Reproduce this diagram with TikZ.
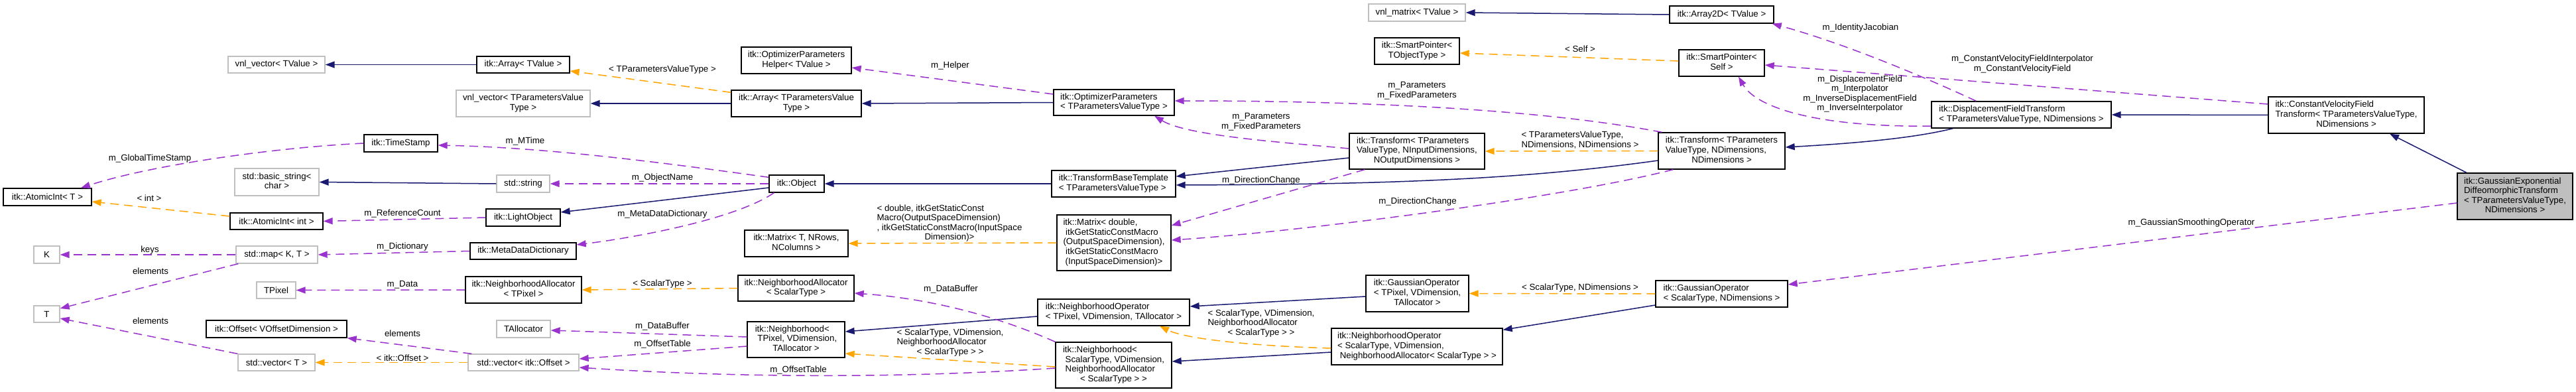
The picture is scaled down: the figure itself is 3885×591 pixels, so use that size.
\documentclass[tikz,border=0pt]{standalone}
\usepackage{fontspec}
\setmainfont{Liberation Sans}
\usetikzlibrary{arrows.meta}
\definecolor{inh}{HTML}{191970}
\definecolor{mem}{HTML}{9A32CD}
\definecolor{tpl}{HTML}{FFA500}
\definecolor{undoc}{HTML}{BFBFBF}
\newcommand{\dxl}[1]{\begin{tabular}{@{}l@{}}#1\end{tabular}}
\newcommand{\dxc}[1]{\begin{tabular}{@{}c@{}}#1\end{tabular}}
\newcommand{\dxm}[1]{\multicolumn{1}{@{}c@{}}{#1}}
\tikzset{
 every node/.style={font=\fontsize{13.3}{14.6}\selectfont},
 cls/.style={draw=black, line width=1.3pt, rectangle, inner sep=0pt, fill=white},
 ucls/.style={cls, draw=undoc},
 focus/.style={cls, fill=undoc},
 lbl/.style={inner sep=0pt},
 tip/.style={-{Triangle[length=14pt,width=10pt]}},
 inherit/.style={draw=inh, line width=1.5pt, tip},
 member/.style={draw=mem, line width=1.5pt, dash pattern=on 13pt off 8pt, tip},
 templ/.style={draw=tpl, line width=1.5pt, dash pattern=on 13pt off 8pt, tip},
}
\begin{document}
\begin{tikzpicture}[x=1pt,y=-1pt]
\fill[white] (0,0) rectangle (3885,591);
\useasboundingbox (0,0) rectangle (3885,591);

% ---------------- nodes ----------------
\node[ucls, minimum width=146pt, minimum height=25pt] (vnlvecTV) at (417,97.5) {vnl\_vector< TValue >};
\node[cls, minimum width=111pt, minimum height=26pt] (timestamp) at (604.5,216) {itk::TimeStamp};
\node[ucls, minimum width=127pt, minimum height=41pt] (basicstr) at (417.5,274.5) {\dxc{std::basic\_string<\\char >}};
\node[cls, minimum width=133pt, minimum height=26pt] (atomicT) at (71.5,297) {itk::AtomicInt< T >};
\node[cls, minimum width=140pt, minimum height=25pt] (atomicint) at (417,333.5) {itk::AtomicInt< int >};
\node[ucls, minimum width=39pt, minimum height=26pt] (K) at (70.5,384) {K};
\node[ucls, minimum width=123pt, minimum height=26pt] (map) at (417.5,384) {std::map< K, T >};
\node[ucls, minimum width=39pt, minimum height=25pt] (T) at (70.5,473.5) {T};
\node[ucls, minimum width=59pt, minimum height=25pt] (TPixel) at (416.5,437.5) {TPixel};
\node[cls, minimum width=212pt, minimum height=26pt] (offsetV) at (417,496) {itk::Offset< VOffsetDimension >};
\node[ucls, minimum width=116pt, minimum height=25pt] (vecT) at (417,546.5) {std::vector< T >};
\node[cls, minimum width=140pt, minimum height=25pt] (arrayTV) at (789,97.5) {itk::Array< TValue >};
\node[cls, minimum width=166pt, minimum height=40pt] (helper) at (1201,91) {\dxc{itk::OptimizerParameters\\Helper< TValue >}};
\node[ucls, minimum width=202pt, minimum height=40pt] (vnlvecTPVT) at (789,156) {\dxc{vnl\_vector< TParametersValue\\Type >}};
\node[cls, minimum width=196pt, minimum height=40pt] (arrayTPVT) at (1201,156) {\dxc{itk::Array< TParametersValue\\Type >}};
\node[ucls, minimum width=80pt, minimum height=26pt] (stdstring) at (789,277) {std::string};
\node[cls, minimum width=83pt, minimum height=26pt] (object) at (1201.5,277) {itk::Object};
\node[cls, minimum width=112pt, minimum height=26pt] (lightobj) at (789,328) {itk::LightObject};
\node[cls, minimum width=160pt, minimum height=25pt] (mdd) at (789,378.5) {itk::MetaDataDictionary};
\node[cls, minimum width=156pt, minimum height=40pt] (matrixT) at (1201,367) {\dxc{itk::Matrix< T, NRows,\\NColumns >}};
\node[cls, minimum width=175pt, minimum height=40pt] (naTPixel) at (789.5,437) {\dxc{itk::NeighborhoodAllocator\\< TPixel >}};
\node[cls, minimum width=175pt, minimum height=39pt] (naST) at (1200.5,434.5) {\dxc{itk::NeighborhoodAllocator\\< ScalarType >}};
\node[ucls, minimum width=81pt, minimum height=26pt] (tallocator) at (789.5,496) {TAllocator};
\node[cls, minimum width=147pt, minimum height=54pt] (nbTPixel) at (1200.5,512) {\dxl{itk::Neighborhood<\\\ TPixel, VDimension,\\\dxm{TAllocator >}}};
\node[ucls, minimum width=167pt, minimum height=25pt] (vecOffset) at (789.5,546.5) {std::vector< itk::Offset >};
\node[cls, minimum width=182pt, minimum height=39pt] (optparams) at (1680,154.5) {\dxl{itk::OptimizerParameters\\< TParametersValueType >}};
\node[cls, minimum width=187pt, minimum height=40pt] (tbt) at (1679.5,277) {\dxl{itk::TransformBaseTemplate\\< TParametersValueType >}};
\node[cls, minimum width=172pt, minimum height=84pt] (matrixD) at (1680,366) {\dxl{itk::Matrix< double,\\\ itkGetStaticConstMacro\\(OutputSpaceDimension),\\\ itkGetStaticConstMacro\\\dxm{(InputSpaceDimension)>}}};
\node[cls, minimum width=229pt, minimum height=40pt] (noTPixel) at (1679.5,471) {\dxl{itk::NeighborhoodOperator\\< TPixel, VDimension, TAllocator >}};
\node[cls, minimum width=175pt, minimum height=69pt] (nbST) at (1679.5,550.5) {\dxl{itk::Neighborhood<\\\ ScalarType, VDimension,\\\ NeighborhoodAllocator\\\dxm{< ScalarType > >}}};
\node[ucls, minimum width=146pt, minimum height=26pt] (vnlmatrix) at (2137,19) {vnl\_matrix< TValue >};
\node[cls, minimum width=128pt, minimum height=40pt] (spTOT) at (2137,77) {\dxc{itk::SmartPointer<\\TObjectType >}};
\node[cls, minimum width=204pt, minimum height=54pt] (transformNIn) at (2137,228) {\dxl{itk::Transform< TParameters\\ValueType, NInputDimensions,\\\dxm{NOutputDimensions >}}};
\node[cls, minimum width=155pt, minimum height=55pt] (goTPixel) at (2137.5,442.5) {\dxl{itk::GaussianOperator\\< TPixel, VDimension,\\\dxm{TAllocator >}}};
\node[cls, minimum width=258pt, minimum height=55pt] (noST) at (2137,522.5) {\dxl{itk::NeighborhoodOperator\\< ScalarType, VDimension,\\\ NeighborhoodAllocator< ScalarType > >}};
\node[cls, minimum width=157pt, minimum height=26pt] (array2D) at (2596.5,22) {itk::Array2D< TValue >};
\node[cls, minimum width=129pt, minimum height=40pt] (spSelf) at (2596.5,95) {\dxc{itk::SmartPointer<\\Self >}};
\node[cls, minimum width=191pt, minimum height=55pt] (transformND) at (2596.5,227.5) {\dxl{itk::Transform< TParameters\\ValueType, NDimensions,\\\dxm{NDimensions >}}};
\node[cls, minimum width=199pt, minimum height=40pt] (goST) at (2596.5,443) {\dxl{itk::GaussianOperator\\< ScalarType, NDimensions >}};
\node[cls, minimum width=271pt, minimum height=40pt] (dft) at (3048.5,173) {\dxl{itk::DisplacementFieldTransform\\< TParametersValueType, NDimensions >}};
\node[cls, minimum width=235pt, minimum height=55pt] (cvft) at (3538.5,173.5) {\dxl{itk::ConstantVelocityField\\Transform< TParametersValueType,\\\dxm{NDimensions >}}};
\node[focus, minimum width=174pt, minimum height=70pt] (gedt) at (3793,296) {\dxl{itk::GaussianExponential\\DiffeomorphicTransform\\< TParametersValueType,\\\dxm{NDimensions >}}};

% ---------------- inheritance ----------------
\draw[inherit] (arrayTV.west) -- (vnlvecTV.east);
\draw[inherit] (arrayTPVT.west) -- (vnlvecTPVT.east);
\draw[inherit] (optparams.west) -- (arrayTPVT.east);
\draw[inherit] (stdstring.west) -- (basicstr.east);
\draw[inherit] ([yshift=-6pt]object.west) -- ([yshift=8pt]lightobj.east);
\draw[inherit] (tbt.west) -- (object.east);
\draw[inherit] ([yshift=-10pt]transformNIn.west) -- ([yshift=11pt]tbt.east);
\draw[inherit] ([yshift=-14.5pt]transformND.west) .. controls (2300,270) and (2100,278) .. ([yshift=-2pt]tbt.east);
\draw[inherit] (array2D.west) -- (vnlmatrix.east);
\draw[inherit] ([xshift=-103pt]dft.south) .. controls (2880,210) and (2780,217) .. ([yshift=5.5pt]transformND.east);
\draw[inherit] (cvft.west) -- (dft.east);
\draw[inherit] ([xshift=-73pt]gedt.north) -- ([xshift=65.5pt]cvft.south);
\draw[inherit] ([yshift=-6pt]noTPixel.west) -- ([yshift=12pt]nbTPixel.east);
\draw[inherit] ([yshift=-4.5pt]goTPixel.west) -- ([yshift=9pt]noTPixel.east);
\draw[inherit] ([yshift=-17pt]goST.west) -- ([yshift=-3pt]noST.north east);
\draw[inherit] ([yshift=-8.5pt]noST.west) -- ([yshift=5.5pt]nbST.east);

% ---------------- template instances ----------------
\draw[templ] ([yshift=7.5pt]atomicint.west) -- ([yshift=-7pt]atomicT.east);
\draw[templ] (vecOffset.west) -- (vecT.east);
\draw[templ] (naST.west) -- (naTPixel.east);
\draw[templ] ([yshift=-4pt]arrayTPVT.north west) -- ([yshift=-9.5pt]arrayTV.east);
\draw[templ] (matrixD.west) -- (matrixT.east);
\draw[templ] ([yshift=-2.5pt]nbST.west) -- ([yshift=-21pt]nbTPixel.east);
\draw[templ] ([yshift=-2.5pt]noST.west) .. controls (1900,522) and (1790,512) .. ([xshift=69.5pt]noTPixel.south);
\draw[templ] ([yshift=3pt]spSelf.west) -- ([yshift=-3pt]spTOT.east);
\draw[templ] (transformND.west) -- (transformNIn.east);
\draw[templ] (goST.west) -- (goTPixel.east);

% ---------------- members ----------------
\draw[member] (timestamp.west) .. controls (420,222) and (230,248) .. ([xshift=50.5pt]atomicT.north);
\draw[member] ([yshift=-4pt]object.north west) .. controls (1000,245) and (820,222) .. ([yshift=-3pt]timestamp.east);
\draw[member] (object.west) -- (stdstring.east);
\draw[member] (lightobj.west) -- (atomicint.east);
\draw[member] ([xshift=8pt]object.south west) .. controls (1110,330) and (960,358) .. ([yshift=9.5pt]mdd.east);
\draw[member] (mdd.west) -- (map.east);
\draw[member] (map.west) -- (K.east);
\draw[member] ([xshift=4pt]map.south west) -- ([yshift=8.5pt]T.east);
\draw[member] (vecT.north west) -- ([yshift=-6.5pt]T.east);
\draw[member] (naTPixel.west) -- (TPixel.east);
\draw[member] ([xshift=6pt]vecOffset.north west) -- (offsetV.south east);
\draw[member] ([yshift=4pt]nbTPixel.west) -- ([yshift=-2pt]tallocator.east);
\draw[member] ([yshift=-10pt]nbTPixel.west) -- ([yshift=5.5pt]vecOffset.east);
\draw[member] ([yshift=-4.5pt]nbST.west) .. controls (1400,568) and (1150,572) .. ([yshift=-7.5pt]vecOffset.east);
\draw[member] (nbST.north west) .. controls (1500,475) and (1400,450) .. ([yshift=-7.5pt]naST.east);
\draw[member] ([yshift=12.5pt]optparams.west) -- ([yshift=-11pt]helper.east);
\draw[member] ([yshift=4pt]transformNIn.west) .. controls (1940,215) and (1790,205) .. ([xshift=61pt]optparams.south);
\draw[member] ([xshift=6pt]transformND.north west) .. controls (2300,160) and (2000,152) .. ([yshift=2.5pt]optparams.east);
\draw[member] ([xshift=24pt]transformNIn.south west) -- ([yshift=26pt]matrixD.east);
\draw[member] ([xshift=23pt]transformND.south west) .. controls (2350,300) and (1950,350) .. ([yshift=4pt]matrixD.east);
\draw[member] ([xshift=68pt]dft.north west) .. controls (2900,115) and (2780,65) .. ([xshift=-3pt]array2D.south east);
\draw[member] ([yshift=16.5pt]cvft.west) -- ([yshift=-3pt]spSelf.east);
\draw[member] ([yshift=-17pt]dft.west) .. controls (2750,192) and (2650,165) .. ([xshift=25.5pt]spSelf.south);
\draw[member] ([yshift=-10pt]gedt.west) -- ([yshift=14pt]goST.east);

% ---------------- labels ----------------
\node[lbl] (l1) at (226,239) {m\_GlobalTimeStamp};
\node[lbl] (l2) at (225,299) {< int >};
\node[lbl] (l3) at (607,322) {m\_ReferenceCount};
\node[lbl] (l4) at (226,377) {keys};
\node[lbl] (l5) at (607,372) {m\_Dictionary};
\node[lbl] (l6) at (227,409) {elements};
\node[lbl] (l7) at (607,429) {m\_Data};
\node[lbl] (l8) at (227,484) {elements};
\node[lbl] (l9) at (607,503) {elements};
\node[lbl] (l10) at (607,540) {< itk::Offset >};
\node[lbl] (l11) at (999,105) {< TParametersValueType >};
\node[lbl] (l12) at (792,213) {m\_MTime};
\node[lbl] (l13) at (999,268) {m\_ObjectName};
\node[lbl] (l14) at (999,323) {m\_MetaDataDictionary};
\node[lbl] (l15) at (999,428) {< ScalarType >};
\node[lbl] (l16) at (999,492) {m\_DataBuffer};
\node[lbl] (l17) at (999,519) {m\_OffsetTable};
\node[lbl] (l18) at (1204,558) {m\_OffsetTable};
\node[lbl] (l19) at (1433,99) {m\_Helper};
\node[lbl] (l20) at (1432,337) {\dxl{< double, itkGetStaticConst\\Macro(OutputSpaceDimension)\\, itkGetStaticConstMacro(InputSpace\\\dxm{Dimension)>}}};
\node[lbl] (l21) at (1434,436) {m\_DataBuffer};
\node[lbl] (l22) at (1433,517) {\dxl{< ScalarType, VDimension,\\NeighborhoodAllocator\\\dxm{< ScalarType > >}}};
\node[lbl] (l23) at (1902,184) {\dxc{m\_Parameters\\m\_FixedParameters}};
\node[lbl] (l24) at (1902,272) {m\_DirectionChange};
\node[lbl] (l25) at (1902,488) {\dxl{< ScalarType, VDimension,\\NeighborhoodAllocator\\\dxm{< ScalarType > >}}};
\node[lbl] (l26) at (2137,137) {\dxc{m\_Parameters\\m\_FixedParameters}};
\node[lbl] (l27) at (2383,74) {< Self >};
\node[lbl] (l28) at (2383,212) {\dxl{< TParametersValueType,\\NDimensions, NDimensions >}};
\node[lbl] (l29) at (2138,304) {m\_DirectionChange};
\node[lbl] (l30) at (2383,434) {< ScalarType, NDimensions >};
\node[lbl] (l31) at (2806,42) {m\_IdentityJacobian};
\node[lbl] (l32) at (2805,142) {\dxc{m\_DisplacementField\\m\_Interpolator\\m\_InverseDisplacementField\\m\_InverseInterpolator}};
\node[lbl] (l33) at (3050,97) {\dxc{m\_ConstantVelocityFieldInterpolator\\m\_ConstantVelocityField}};
\node[lbl] (l34) at (3305,336) {m\_GaussianSmoothingOperator};
\end{tikzpicture}
\end{document}
